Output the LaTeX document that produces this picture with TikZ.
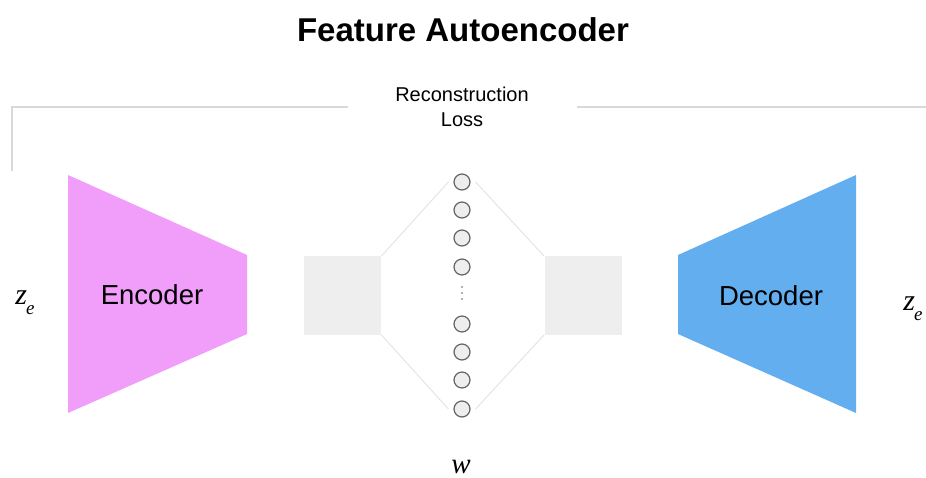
\documentclass[tikz,border=0pt]{standalone}
\usepackage{fontspec}
\setmainfont{Liberation Sans}
\newfontfamily\timesfont{Liberation Serif}
\definecolor{encpink}{RGB}{240,158,250}
\definecolor{decblue}{RGB}{99,174,238}
\definecolor{boxgray}{RGB}{238,238,238}
\definecolor{linegray}{RGB}{217,217,217}
\definecolor{unitgray}{RGB}{100,100,100}
\usepackage{tikz}
\usetikzlibrary{positioning}
\newcommand{\zevar}{{\timesfont\itshape\fontsize{30}{30}\selectfont z\kern-1pt\raisebox{-10pt}{\fontsize{19}{19}\selectfont e}}}

\begin{document}
\begin{tikzpicture}[x=1pt,y=-1pt,
    unit/.style={circle, draw=unitgray, fill=boxgray, line width=1.2pt, minimum size=16pt, inner sep=0pt},
    featbox/.style={rectangle, fill=boxgray, minimum width=77pt, minimum height=78pt, inner sep=0pt},
    link/.style={draw=linegray!70, line width=1pt}]
        \useasboundingbox (0,0) rectangle (926,478);
        \node (title) at (463,30) {\fontsize{33}{33}\selectfont\bfseries Feature Autoencoder};
        \node[align=center, font=\fontsize{20}{25}\selectfont] (loss) at (462,107) {Reconstruction\\Loss};
        \draw[linegray, line width=2pt] (12,171) -- (12,107) -- (348,107);
        \draw[linegray, line width=2pt] (577,107) -- (926,107);
        \fill[encpink] (68,175) -- (247,255) -- (247,334) -- (68,413) -- cycle;
        \fill[decblue] (678,255) -- (856,175) -- (856,413) -- (678,334) -- cycle;
        \node[font=\fontsize{27.5}{27.5}\selectfont] (enc) at (152,295) {Encoder};
        \node[font=\fontsize{27.5}{27.5}\selectfont] (dec) at (771,296) {Decoder};
        \node[featbox] (lbox) at (342.5,295.5) {};
        \node[featbox] (rbox) at (583,295.5) {};
        \foreach \i/\y in {1/182,2/210,3/238,4/267,5/324,6/352,7/380,8/409}
            \node[unit] (n\i) at (462,\y) {};
        \foreach \y in {287,293,299}
            \fill[unitgray] (462,\y) circle (0.8pt);
        \draw[link] (lbox.north east) -- ([xshift=-5pt]n1.west);
        \draw[link] (lbox.south east) -- ([xshift=-5pt]n8.west);
        \draw[link] (rbox.north west) -- ([xshift=5pt]n1.east);
        \draw[link] (rbox.south west) -- ([xshift=5pt]n8.east);
        \node (zin) at (25,303) {\zevar};
        \node (zout) at (913,309) {\zevar};
        \node (w) at (461,467) {\timesfont\itshape\fontsize{29}{29}\selectfont w};
\end{tikzpicture}
\end{document}
